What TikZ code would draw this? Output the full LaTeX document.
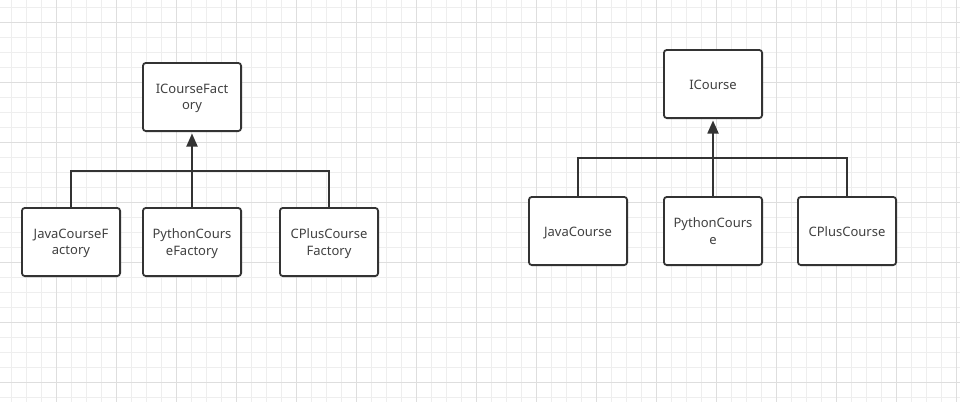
\documentclass[tikz,border=0pt]{standalone}
\usepackage{fontspec}
\setmainfont{Noto Sans}
\usetikzlibrary{arrows.meta}
\definecolor{gridminor}{HTML}{EEEEEE}
\definecolor{gridmajor}{HTML}{DEDEDE}
\definecolor{ink}{HTML}{333333}
\definecolor{txt}{HTML}{404040}
\tikzset{
  cls/.style={draw=ink, line width=1.8pt, rounded corners=3pt, fill=white,
    minimum width=98.2pt, minimum height=68.2pt, inner sep=2pt},
  clstext/.style={align=center, text=txt, font=\fontsize{13}{16.5}\selectfont,
    inner sep=0pt, yshift=-2.5pt,
    execute at begin node=\strut, execute at end node=\strut},
  link/.style={draw=ink, line width=1.8pt},
  inherit/.style={link, -{Triangle[length=13pt,width=11pt]}, shorten >=1.5pt}
}
\begin{document}
\begin{tikzpicture}[x=1pt,y=-1pt]
\useasboundingbox (0,0) rectangle (960,402);
\fill[white] (0,0) rectangle (960,402);
% grid
\foreach \gx in {11,26,...,956} {\draw[gridminor, line width=1pt] (\gx,0) -- (\gx,402);}
\foreach \gy in {7,22,...,402} {\draw[gridminor, line width=1pt] (0,\gy) -- (960,\gy);}
\foreach \gx in {56,116,...,956} {\draw[gridmajor, line width=1pt] (\gx,0) -- (\gx,402);}
\foreach \gy in {22,82,...,402} {\draw[gridmajor, line width=1pt] (0,\gy) -- (960,\gy);}

% left hierarchy
\node[cls, label={[clstext]center:ICourseFact\\ory}] (icf) at (192,97) {};
\node[cls, label={[clstext]center:JavaCourseF\\actory}] (jcf) at (71,242) {};
\node[cls, label={[clstext]center:PythonCours\\eFactory}] (pcf) at (192,242) {};
\node[cls, label={[clstext]center:CPlusCourse\\Factory}] (ccf) at (329,242) {};
\coordinate (lbar) at (192,171);
\draw[link] (jcf.north) |- (lbar) -| (ccf.north);
\draw[inherit] (pcf.north) -- (icf.south);

% right hierarchy
\node[cls, label={[clstext]center:ICourse}] (ic) at (713,84) {};
\node[cls, label={[clstext]center:JavaCourse}] (jc) at (578,231) {};
\node[cls, label={[clstext]center:PythonCours\\e}] (pc) at (713,231) {};
\node[cls, label={[clstext]center:CPlusCourse}] (cc) at (847,231) {};
\coordinate (rbar) at (713,158);
\draw[link] (jc.north) |- (rbar) -| (cc.north);
\draw[inherit] (pc.north) -- (ic.south);
\end{tikzpicture}
\end{document}
